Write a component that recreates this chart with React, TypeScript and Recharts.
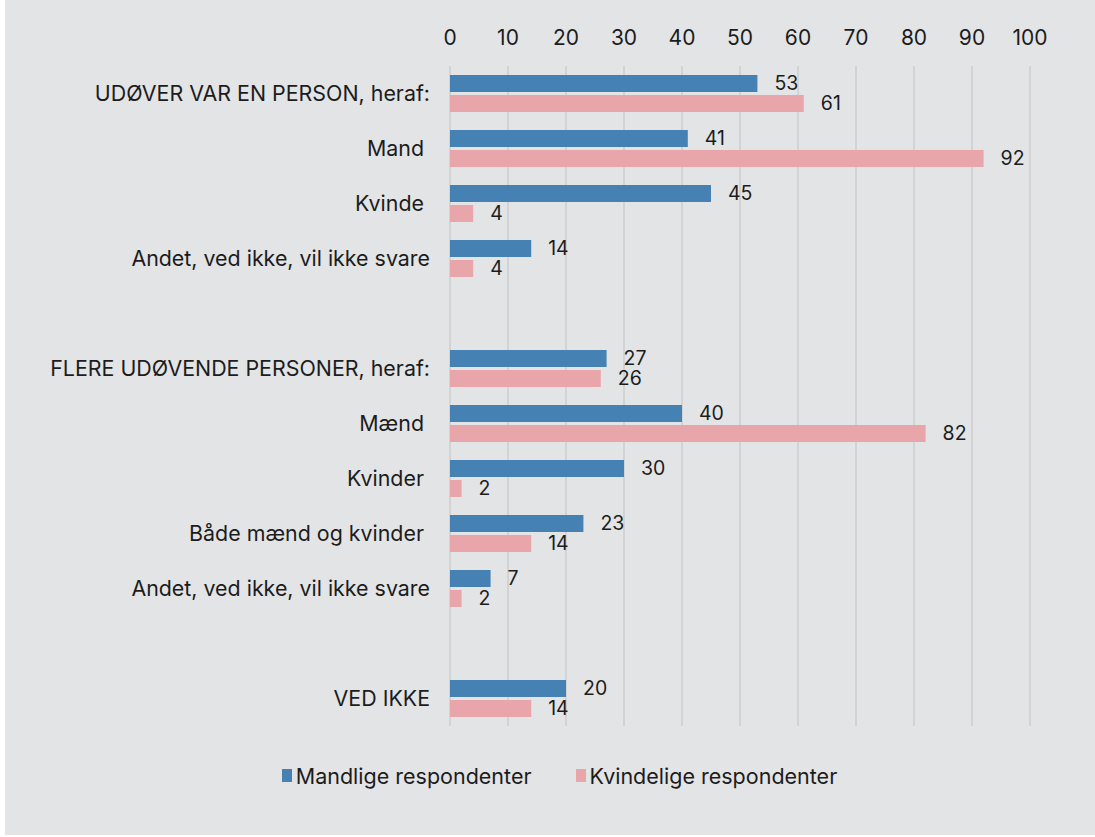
import React from 'react';
import {
    BarChart,
    Bar,
    XAxis,
    YAxis,
    CartesianGrid,
    Legend,
    LabelList
} from 'recharts';

// category labels (blank rows are the spacers between groups)
const categories = [
    'UDØVER VAR EN PERSON, heraf:',
    'Mand ',
    'Kvinde ',
    'Andet, ved ikke, vil ikke svare',
    '',
    'FLERE UDØVENDE PERSONER, heraf:',
    'Mænd ',
    'Kvinder ',
    'Både mænd og kvinder ',
    'Andet, ved ikke, vil ikke svare',
    ' ',
    'VED IKKE',
];

const maleValues: (number | null)[] = [53, 41, 45, 14, null, 27, 40, 30, 23, 7, null, 20];
const femaleValues: (number | null)[] = [61, 92, 4, 4, null, 26, 82, 2, 14, 2, null, 14];

const xTicks = [0, 10, 20, 30, 40, 50, 60, 70, 80, 90, 100];

const seriesNames = ['Mandlige respondenter', 'Kvindelige respondenter'];
const BLUE = '#4681b4';
const PINK = '#e8a6ab';

const data = categories.map((name, i) => ({
    id: `c${i}`,
    name,
    male: maleValues[i],
    female: femaleValues[i],
}));

const FONT = 'Inter, "Noto Sans", sans-serif';
const TEXT = '#1c1c1c';

const YTick = (props: any) => {
    const { x, y, payload } = props;
    const label = categories[payload.index] ?? '';
    return (
        <text
            x={x}
            y={y}
            dy={7}
            textAnchor="end"
            fill={TEXT}
            fontSize={21.4}
            fontFamily={FONT}
            style={{ whiteSpace: 'pre' }}
        >
            {label}
        </text>
    );
};

const LegendContent = () => (
    <div
        style={{
            height: 99,
            display: 'flex',
            alignItems: 'center',
            justifyContent: 'center',
            gap: 44,
            fontFamily: FONT,
            fontSize: 21.5,
            color: TEXT,
            paddingLeft: 84,
        }}
    >
        {[BLUE, PINK].map((c, i) => (
            <div key={seriesNames[i]} style={{ display: 'flex', alignItems: 'center', gap: 4 }}>
                <span style={{ display: 'inline-block', width: 10, height: 13, background: c }} />
                <span>{seriesNames[i]}</span>
            </div>
        ))}
    </div>
);

const App = () => {
    return (
        <div
            style={{
                position: 'absolute',
                left: 5,
                top: 0,
                width: 1090,
                height: 835,
                background: '#e3e4e6',
            }}
        >
            <BarChart
                width={1090}
                height={835}
                data={data}
                layout="vertical"
                margin={{ top: 0, right: 65, left: 0, bottom: 10 }}
                barSize={17}
                barGap={3}
            >
                <CartesianGrid horizontal={false} stroke="#d2d3d5" strokeWidth={2} />
                <XAxis
                    type="number"
                    orientation="top"
                    domain={[0, 100]}
                    ticks={xTicks}
                    interval={0}
                    height={66}
                    axisLine={false}
                    tickLine={false}
                    tickSize={0}
                    tickMargin={21}
                    tick={{ fill: TEXT, fontSize: 21, fontFamily: FONT }}
                />
                <YAxis
                    type="category"
                    dataKey="id"
                    width={445}
                    axisLine={false}
                    tickLine={false}
                    tickSize={0}
                    tickMargin={20}
                    interval={0}
                    tick={<YTick />}
                />
                <Legend verticalAlign="bottom" content={<LegendContent />} />
                <Bar dataKey="male" name={seriesNames[0]} fill={BLUE} isAnimationActive={false}>
                    <LabelList
                        dataKey="male"
                        position="right"
                        offset={17}
                        fill={TEXT}
                        fontSize={19.5}
                        fontFamily={FONT}
                    />
                </Bar>
                <Bar dataKey="female" name={seriesNames[1]} fill={PINK} isAnimationActive={false}>
                    <LabelList
                        dataKey="female"
                        position="right"
                        offset={17}
                        fill={TEXT}
                        fontSize={19.5}
                        fontFamily={FONT}
                    />
                </Bar>
            </BarChart>
        </div>
    );
};

export default App;
